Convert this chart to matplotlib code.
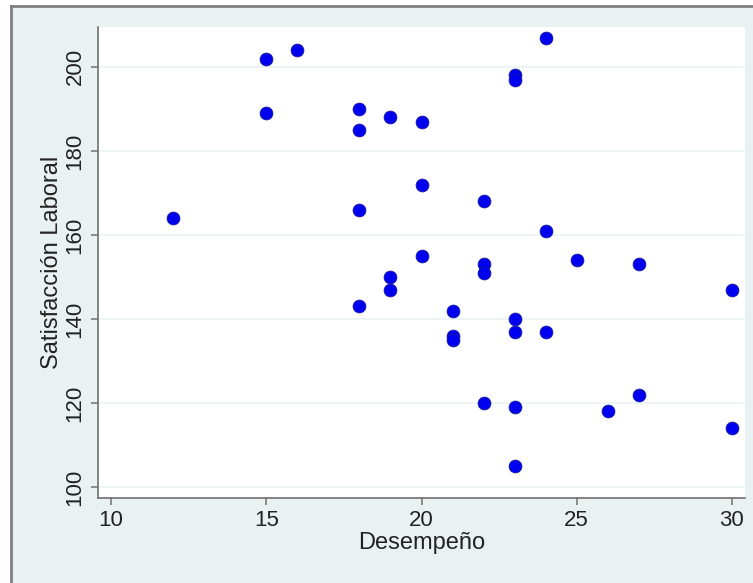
import matplotlib
matplotlib.use("Agg")
import matplotlib.pyplot as plt
from matplotlib.lines import Line2D

desempeno = [12, 15, 15, 16, 18, 18, 18, 18, 19, 19, 19, 20, 20, 20,
             21, 21, 21, 22, 22, 22, 22, 23, 23, 23, 23, 23, 23,
             24, 24, 24, 25, 26, 27, 27, 30, 30]
satisfaccion = [164, 202, 189, 204, 190, 185, 166, 143, 188, 150, 147, 187, 172, 155,
                142, 136, 135, 168, 153, 151, 120, 198, 197, 140, 137, 119, 105,
                207, 161, 137, 154, 118, 153, 122, 147, 114]
x_ticks = [10, 15, 20, 25, 30]
y_ticks = [100, 120, 140, 160, 180, 200]

bg = "#EAF1F3"
fig = plt.figure(figsize=(7.53, 5.83), dpi=100, facecolor=bg)
plt.rcParams['font.family'] = ['Liberation Sans', 'DejaVu Sans']

ax = fig.add_axes([98/753, 1-498/583, (745-98)/753, (498-27)/583])
ax.set_facecolor("white")
ax.scatter(desempeno, satisfaccion, s=85, color="#0000F0", edgecolors="#1a1aa0",
           linewidths=0.6, zorder=3)

ax.set_xlim(9.58, 30.42)
ax.set_ylim(97.4, 209.5)
ax.set_xticks(x_ticks)
ax.set_yticks(y_ticks)
ax.set_yticklabels([str(v) for v in y_ticks], rotation=90, va="center")
ax.grid(axis="y", color="#EAF2F3", linewidth=1.2, zorder=0)
ax.grid(axis="x", visible=False)

for s in ["top", "right"]:
    ax.spines[s].set_visible(False)
for s in ["left", "bottom"]:
    ax.spines[s].set_color("#707070")
    ax.spines[s].set_linewidth(1.2)
ax.tick_params(axis="both", direction="out", length=5, width=1.1, color="#707070",
               labelsize=16, labelcolor="#222222", pad=4)

ax.set_xlabel("Desempeño", fontsize=17, color="#222222", labelpad=0)
ax.set_ylabel("Satisfacción Laboral", fontsize=17, color="#222222", labelpad=1)

# outer border (left and top)
fig.add_artist(Line2D([11/753, 11/753], [0, 1-6/583], transform=fig.transFigure,
                      color="#808080", linewidth=2))
fig.add_artist(Line2D([11/753, 1], [1-6/583, 1-6/583], transform=fig.transFigure,
                      color="#808080", linewidth=2))
fig.patches.append(plt.Rectangle((0, 1-5/583), 1, 5/583, transform=fig.transFigure,
                                 facecolor="white", edgecolor="none", zorder=-1))
fig.patches.append(plt.Rectangle((0, 0), 10/753, 1, transform=fig.transFigure,
                                 facecolor="white", edgecolor="none", zorder=-1))

fig.savefig("out.png", dpi=100, facecolor=bg)
